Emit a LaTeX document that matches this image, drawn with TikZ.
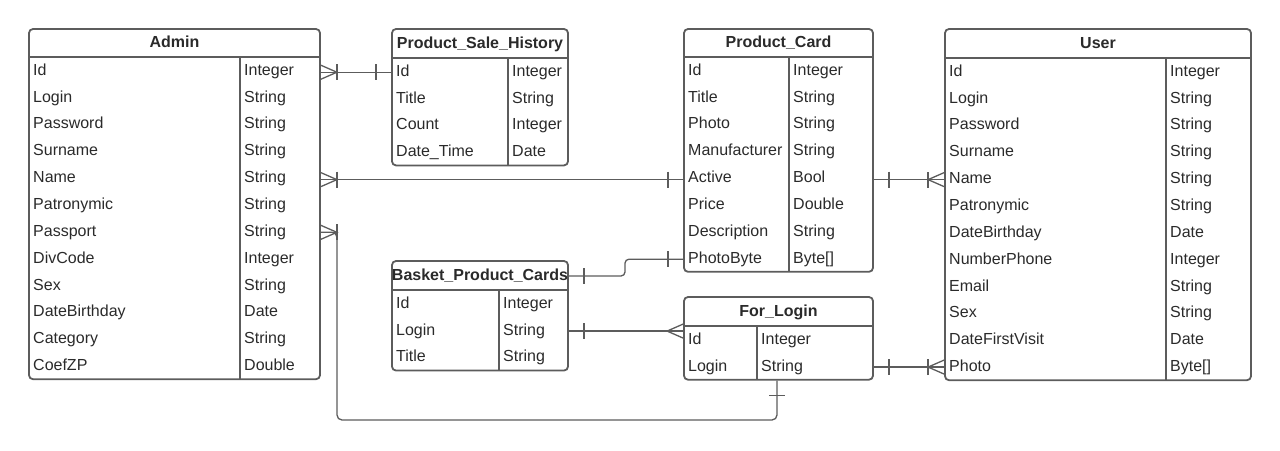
\documentclass[tikz,border=0pt]{standalone}
\usepackage{fontspec}
\setmainfont{Liberation Sans}
\usetikzlibrary{calc}
\definecolor{lncol}{HTML}{5C5C5C}
\definecolor{txcol}{HTML}{2A2A2A}
\tikzset{
  box/.style={draw=lncol, line width=1.8pt, rounded corners=4pt, inner sep=0pt, fill=none},
  tbl/.style={draw=lncol, line width=1.8pt},
  cell/.style={anchor=west, inner sep=0pt, text height=11.5pt, text depth=3.5pt, text=txcol, font=\fontsize{16}{19}\selectfont},
  ttl/.style={inner sep=0pt, text height=11.5pt, text depth=3.5pt, text=txcol, font=\fontsize{16}{19}\selectfont\bfseries},
  conn/.style={draw=lncol, line width=1.3pt},
  crowbar/.pic={\draw[conn] (0,-7) -- (16,0) -- (0,7); \draw[conn] (0,0) -- (16,0); \draw[conn] (16,-8) -- (16,8);},
  crow/.pic={\draw[conn] (0,-7) -- (16,0) -- (0,7); \draw[conn] (0,0) -- (16,0);},
  onebar/.pic={\draw[conn] (0,-8) -- (0,8);}
}
\newcommand{\erent}[8]{%
  \pgfmathsetmacro\hb{#5+#6}%
  \foreach [count=\i] \a/\b in {#8} {
    \node[cell] (#1-\i) at ({#2+4}, {\hb+(\i-0.5)*26.85+0.8}) {\a};
    \node[cell] (#1-\i t) at ({#4+4}, {\hb+(\i-0.5)*26.85+0.8}) {\b};
    \xdef\nrows{\i}}
  \pgfmathsetmacro\bt{\hb+\nrows*26.85}%
  \node[box, minimum width={(#3-#2)*1pt}, minimum height={(\bt-#5)*1pt}] (#1) at ({(#2+#3)/2},{(#5+\bt)/2}) {};
  \node[ttl] (#1-title) at ({(#2+#3)/2},{#5+#6/2+0.5}) {#7};
  \draw[tbl] (#2,\hb) -- (#3,\hb);
  \draw[tbl] (#4,\hb) -- (#4,\bt);
}
\begin{document}
\begin{tikzpicture}[x=1pt,y=-1pt]
\useasboundingbox (0,0) rectangle (1280,450);
\erent{admin}{29}{320}{240}{29}{28}{Admin}{Id/Integer, Login/String, Password/String, Surname/String, Name/String, Patronymic/String, Passport/String, DivCode/Integer, Sex/String, DateBirthday/Date, Category/String, CoefZP/Double}
\erent{psh}{392}{568}{508}{29}{29}{Product\_Sale\_History}{Id/Integer, Title/String, Count/Integer, Date\_Time/Date}
\erent{pc}{684}{873}{789}{29}{28}{Product\_Card}{Id/Integer, Title/String, Photo/String, Manufacturer/String, Active/Bool, Price/Double, Description/String, PhotoByte/Byte[]}
\erent{user}{945}{1251}{1166}{29}{29}{User}{Id/Integer, Login/String, Password/String, Surname/String, Name/String, Patronymic/String, DateBirthday/Date, NumberPhone/Integer, Email/String, Sex/String, DateFirstVisit/Date, Photo/Byte[]}
\erent{bpc}{392}{568}{499}{261}{29}{Basket\_Product\_Cards}{Id/Integer, Login/String, Title/String}
\erent{fl}{684}{873}{757}{297}{29}{For\_Login}{Id/Integer, Login/String}

% Admin -- Product_Sale_History
\draw[conn] (admin.east |- psh-1) -- (psh.west |- psh-1);
\pic at (admin.east |- psh-1) {crowbar};
\pic at ($(psh.west |- psh-1)+(-15,0)$) {onebar};

% Admin -- Product_Card
\draw[conn] (admin.east |- user-5) -- (pc.west |- user-5);
\pic at (admin.east |- user-5) {crowbar};
\pic at ($(pc.west |- user-5)+(-15,0)$) {onebar};

% User -- Product_Card
\draw[conn] (pc.east |- user-5) -- (user.west |- user-5);
\pic at ($(pc.east |- user-5)+(15,0)$) {onebar};
\pic[rotate=180] at (user.west |- user-5) {crowbar};

% Basket -- Product_Card
\coordinate (bend) at (625,265);
\draw[conn, rounded corners=4pt] (bpc.east |- bpc-title) -- (bend |- bpc-title) -- (bend |- pc-8) -- (pc.west |- pc-8);
\pic at ($(bpc.east |- bpc-title)+(15,0)$) {onebar};
\pic at ($(pc.west |- pc-8)+(-15,0)$) {onebar};

% Basket -- For_Login
\draw[conn] (bpc.east |- bpc-2) -- (fl.west |- bpc-2);
\pic at ($(bpc.east |- bpc-2)+(15,0)$) {onebar};
\pic[rotate=180] at (fl.west |- bpc-2) {crow};

% For_Login -- User
\draw[conn] (fl.east |- fl-2) -- (user.west |- fl-2);
\pic at ($(fl.east |- fl-2)+(15,0)$) {onebar};
\pic[rotate=180] at (user.west |- fl-2) {crowbar};

% Admin -- For_Login
\coordinate (loopA) at (337,420);
\coordinate (loopB) at (777,420);
\draw[conn, rounded corners=5pt] (admin.east |- admin-7) -- (loopA |- admin-7) -- (loopA) -- (loopB) -- (fl.south -| loopB);
\pic at (admin.east |- admin-7) {crowbar};
\pic[rotate=90] at ($(fl.south -| loopB)+(0,15)$) {onebar};
\end{tikzpicture}
\end{document}
